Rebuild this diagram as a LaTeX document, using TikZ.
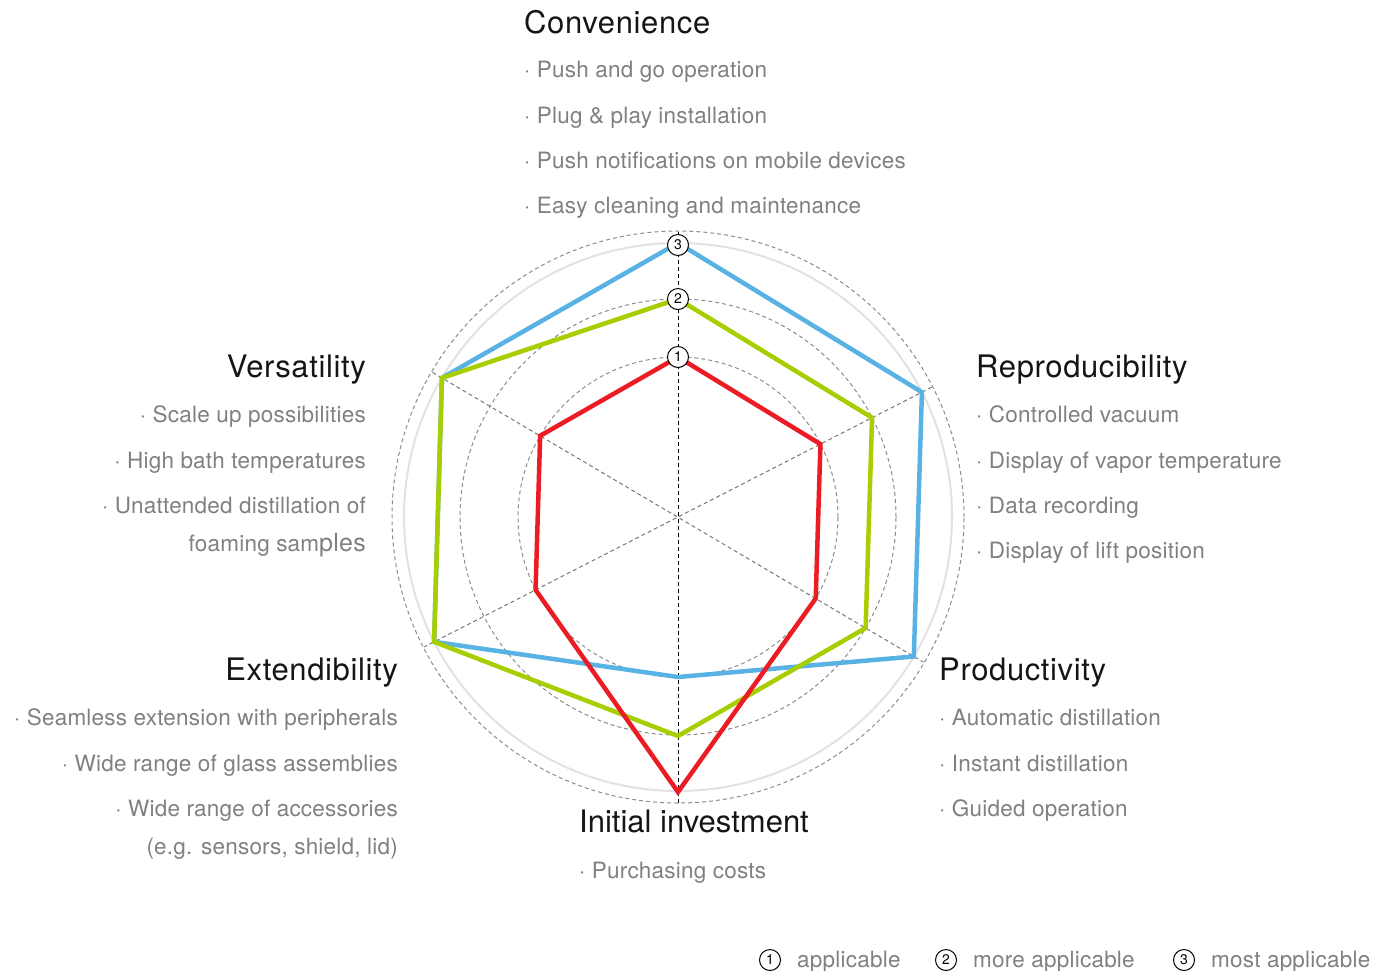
\documentclass[tikz,border=0pt]{standalone}
\usepackage{fontspec}
\setmainfont{TeX Gyre Heros}
\newfontfamily\headfont{TeX Gyre Heros}[LetterSpace=2]
\newfontfamily\itemfont{TeX Gyre Heros}[LetterSpace=1]
\usetikzlibrary{calc}
\definecolor{headc}{HTML}{151515}
\definecolor{itemc}{HTML}{808080}
\definecolor{blueln}{HTML}{58B3E4}
\definecolor{greenln}{HTML}{A6CE00}
\definecolor{redln}{HTML}{EC1C24}
\definecolor{ringc}{HTML}{E2E2E2}
\definecolor{dashc}{HTML}{8C8C8C}
\tikzset{
  head/.style={font=\headfont\fontsize{31}{36}\selectfont, text=headc, inner sep=0pt},
  item/.style={font=\itemfont\fontsize{22.5}{26}\selectfont, text=itemc, inner sep=0pt},
  levelmark/.style={circle, draw=black, line width=1pt, fill=white, minimum size=21pt, inner sep=0pt, font=\fontsize{14}{14}\selectfont},
  ring/.style={dashc, line width=1pt, dash pattern=on 4pt off 3pt},
  spoke/.style={dashc!85!black, line width=1pt, dash pattern=on 4pt off 3pt},
  series/.style={line width=4.5pt, line join=miter},
}
\begin{document}
\begin{tikzpicture}[x=1pt,y=-1pt]
\useasboundingbox (0,0) rectangle (1378,970);
\coordinate (c) at (678,517);
% axis end points (visual angles: 90, 27.1, -30.6, -90, 207.1, 149.5)
\coordinate (a1) at ($(c)+(-90:285)$);
\coordinate (a2) at ($(c)+(-27.1:285)$);
\coordinate (a3) at ($(c)+(30.6:285)$);
\coordinate (a4) at ($(c)+(90:286)$);
\coordinate (a5) at ($(c)+(152.9:285)$);
\coordinate (a6) at ($(c)+(-149.5:285)$);
% rings
\draw[ringc, line width=2pt] (c) circle[radius=274pt];
\draw[ring] (c) circle[radius=286pt];
\draw[ring] (c) circle[radius=218pt];
\draw[ring] (c) circle[radius=160pt];
% spokes
\draw[spoke] (a2) -- (a5);
\draw[spoke] (a6) -- (a3);
\draw[black, line width=1pt, dash pattern=on 4pt off 3pt] (a1) -- (a4);
% series: blue
\coordinate (b1) at ($(c)+(-90:274)$);
\coordinate (b2) at ($(c)+(-27.1:274)$);
\coordinate (b3) at ($(c)+(30.6:274)$);
\coordinate (b4) at ($(c)+(90:160)$);
\coordinate (b5) at ($(c)+(152.9:274)$);
\coordinate (b6) at ($(c)+(-149.5:274)$);
\draw[series, blueln] (b1) -- (b2) -- (b3) -- (b4) -- (b5) -- (b6) -- cycle;
% green
\coordinate (g1) at ($(c)+(-90:218)$);
\coordinate (g2) at ($(c)+(-27.1:218)$);
\coordinate (g3) at ($(c)+(30.6:218)$);
\coordinate (g4) at ($(c)+(90:219)$);
\coordinate (g5) at ($(c)+(152.9:274)$);
\coordinate (g6) at ($(c)+(-149.5:274)$);
\draw[series, greenln] (g1) -- (g2) -- (g3) -- (g4) -- (g5) -- (g6) -- cycle;
% red
\coordinate (r1) at ($(c)+(-90:160)$);
\coordinate (r2) at ($(c)+(-27.1:160)$);
\coordinate (r3) at ($(c)+(30.6:160)$);
\coordinate (r4) at ($(c)+(90:275)$);
\coordinate (r5) at ($(c)+(152.9:160)$);
\coordinate (r6) at ($(c)+(-149.5:160)$);
\draw[series, redln] (r1) -- (r2) -- (r3) -- (r4) -- (r5) -- (r6) -- cycle;
% level markers
\node[levelmark] (m3) at (678,245) {3};
\node[levelmark] (m2) at (678,299) {2};
\node[levelmark] (m1) at (678,357) {1};
% Convenience
\node[head, anchor=base west] (hconv) at (524,33) {Convenience};
\node[item, anchor=base west] (conv1) at (524,77) {· Push and go operation};
\node[item, anchor=base west] (conv2) at (524,123) {· Plug \& play installation};
\node[item, anchor=base west] (conv3) at (524,168) {· Push notifications on mobile devices};
\node[item, anchor=base west] (conv4) at (524,213) {· Easy cleaning and maintenance};
% Reproducibility
\node[head, anchor=base west] (hrep) at (976,377) {Reproducibility};
\node[item, anchor=base west] (rep1) at (976,422) {· Controlled vacuum};
\node[item, anchor=base west] (rep2) at (976,468) {· Display of vapor temperature};
\node[item, anchor=base west] (rep3) at (976,513) {· Data recording};
\node[item, anchor=base west] (rep4) at (976,558) {· Display of lift position};
% Productivity
\node[head, anchor=base west] (hprod) at (939,680) {Productivity};
\node[item, anchor=base west] (prod1) at (939,725) {· Automatic distillation};
\node[item, anchor=base west] (prod2) at (939,771) {· Instant distillation};
\node[item, anchor=base west] (prod3) at (939,816) {· Guided operation};
% Initial investment
\node[head, font=\fontsize{31}{36}\selectfont, anchor=base west] (hinv) at (579,832) {Initial investment};
\node[item, anchor=base west] (inv1) at (579,878) {· Purchasing costs};
% Versatility
\node[head, anchor=base east] (hvers) at (366,377) {Versatility};
\node[item, anchor=base east] (vers1) at (366,422) {· Scale up possibilities};
\node[item, anchor=base east] (vers2) at (366,468) {· High bath temperatures};
\node[item, anchor=base east] (vers3) at (366,513) {· Unattended distillation of};
\node[item, anchor=base east] (vers4) at (366,551) {foaming sam{\fontsize{25}{26}\selectfont ples}};
% Extendibility
\node[head, anchor=base east] (hext) at (398,680) {Extendibility};
\node[item, anchor=base east] (ext1) at (398,725) {· Seamless extension with peripherals};
\node[item, anchor=base east] (ext2) at (398,771) {· Wide range of glass assemblies};
\node[item, anchor=base east] (ext3) at (398,816) {· Wide range of accessories};
\node[item, anchor=base east] (ext4) at (398,854) {(e.g. sensors, shield, lid)};
% Legend
\node[levelmark] (lm1) at (770,960) {1};
\node[item, anchor=base west] (lt1) at (797,967) {applicable};
\node[levelmark] (lm2) at (946,960) {2};
\node[item, anchor=base west] (lt2) at (973,967) {more applicable};
\node[levelmark] (lm3) at (1184,960) {3};
\node[item, anchor=base west] (lt3) at (1211,967) {most applicable};
\end{tikzpicture}
\end{document}
